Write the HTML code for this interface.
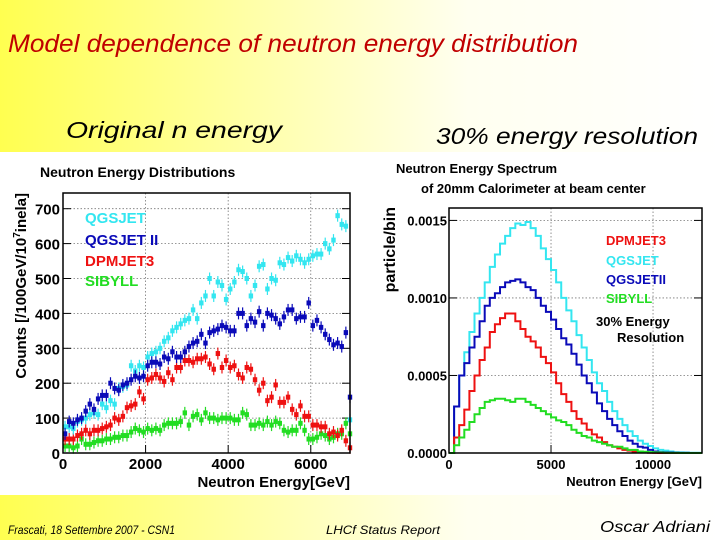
<!DOCTYPE html>
<html><head><meta charset="utf-8">
<style>
html,body{margin:0;padding:0;width:720px;height:540px;overflow:hidden}
body{background:linear-gradient(90deg,#ffff50 0%,#ffffa8 35%,#fffff0 65%,#ffffff 100%)}
svg text{font-family:"Liberation Sans",sans-serif}
.hand{font-family:"Liberation Sans",sans-serif;font-style:italic}
</style></head><body>
<svg id="chart" width="720" height="540" xmlns="http://www.w3.org/2000/svg">
<rect x="0" y="152" width="720" height="343" fill="#ffffff"/>
<text x="8" y="52" class="hand" font-size="25" fill="#c00000" textLength="570" lengthAdjust="spacingAndGlyphs">Model dependence of neutron energy distribution</text>
<text x="66" y="138" class="hand" font-size="23" fill="#000" textLength="216" lengthAdjust="spacingAndGlyphs">Original n energy</text>
<text x="436" y="144" class="hand" font-size="23" fill="#000" textLength="262" lengthAdjust="spacingAndGlyphs">30% energy resolution</text>
<text x="8" y="534" class="hand" font-size="12" fill="#000" textLength="167" lengthAdjust="spacingAndGlyphs">Frascati, 18 Settembre 2007 - CSN1</text>
<text x="326" y="534" class="hand" font-size="12" fill="#000" textLength="114" lengthAdjust="spacingAndGlyphs">LHCf Status Report</text>
<text x="600" y="532" class="hand" font-size="16" fill="#000" textLength="110" lengthAdjust="spacingAndGlyphs">Oscar Adriani</text>
<g id="left"></g>
<g id="right"></g>
</svg>
<script>
// ---- left chart data (100 GeV bins, centers at 50,150,...)
const leftBinWidth = 100;
const qgsjet = [75,75,70,90,95,100,110,115,110,140,130,150,140,185,190,195,250,235,250,245,275,285,290,300,320,330,350,360,370,380,385,410,385,430,450,500,450,490,480,440,470,490,525,520,500,450,480,535,540,470,500,495,545,540,560,550,565,555,545,555,565,570,570,600,585,610,680,655,650,95];
const qgsjet2 = [55,90,85,95,100,120,140,125,155,165,165,200,185,180,195,200,210,220,215,220,250,260,260,255,275,270,290,275,275,290,305,315,320,340,315,345,350,355,365,360,350,350,400,400,365,385,375,405,365,400,395,385,370,390,410,410,385,390,390,430,365,380,360,340,325,310,315,305,345,160];
const dpmjet = [40,40,40,50,55,65,55,65,65,70,75,80,100,95,105,130,135,140,175,155,210,215,225,215,205,230,210,245,245,265,265,260,270,270,275,255,240,285,245,265,245,250,225,215,245,240,210,180,200,150,160,195,145,145,160,125,110,135,105,105,80,80,75,75,55,60,50,65,35,15];
const sibyll = [20,20,15,20,40,25,25,30,35,35,40,40,45,45,50,50,60,70,65,60,70,65,70,65,80,85,85,85,90,115,80,105,110,95,115,100,100,95,100,100,100,95,95,115,110,80,80,85,80,90,80,90,85,65,60,65,65,85,65,40,40,45,55,50,40,45,55,55,85,55];
const leftXTicks = [0,2000,4000,6000];
const leftYTicks = [0,100,200,300,400,500,600,700];
// ---- right chart data (250 GeV bins)
const rightBinWidth = 250;
const rQgsjet = [0,0.0003,0.0005,0.00065,0.00078,0.0009,0.001,0.0011,0.0012,0.00128,0.00135,0.0014,0.00145,0.00148,0.00147,0.00149,0.00145,0.0014,0.00132,0.00125,0.00118,0.0011,0.001,0.00092,0.00085,0.00076,0.00068,0.0006,0.00052,0.00045,0.0004,0.00033,0.00027,0.00022,0.00018,0.00014,0.00011,0.00008,0.00006,0.000045,0.00003,0.00002,0.000015,0.00001,0.000005,0.000004,0.000003,0.000002,0.000002,0.000001];
const rQgsjet2 = [0,0.0003,0.0005,0.00058,0.00068,0.00075,0.00085,0.00095,0.001,0.00103,0.00107,0.0011,0.00111,0.00112,0.0011,0.00107,0.00105,0.001,0.00095,0.00091,0.00086,0.0008,0.00074,0.0007,0.00064,0.00057,0.0005,0.00045,0.00039,0.00032,0.00027,0.00022,0.00018,0.00014,0.00011,0.00008,0.00006,0.00004,0.000035,0.00002,0.00001,0.000006,0.000004,0.000003,0.000002,0.000001,0.000001,0,0,0];
const rDpmjet = [0,0.0001,0.00018,0.00028,0.0004,0.0005,0.0006,0.00068,0.00078,0.00083,0.00087,0.0009,0.0009,0.00085,0.0008,0.00075,0.00072,0.00068,0.00062,0.00058,0.00052,0.00045,0.00038,0.00033,0.00027,0.00022,0.00019,0.00015,0.00012,0.0001,0.00007,0.00005,0.00004,0.00003,0.00002,0.000015,0.00001,0.000006,0.000004,0.000002,0.000001,0,0,0,0,0,0,0,0,0];
const rSibyll = [0,0.00005,0.0001,0.00015,0.0002,0.00025,0.00029,0.00033,0.00034,0.00035,0.00035,0.00034,0.00033,0.00035,0.00035,0.00033,0.00031,0.00029,0.00027,0.00025,0.00023,0.00021,0.0002,0.00018,0.00015,0.00013,0.00011,0.0001,0.00008,0.00007,0.00006,0.00005,0.00004,0.00004,0.00003,0.00002,0.00002,0.00001,0.000008,0.000006,0.000004,0.000003,0.000002,0.000001,0.000001,0,0,0,0,0];
const rightXTicks = [0,5000,10000];
const rightYTicks = [0,0.0005,0.0010,0.0015];

const NS = "http://www.w3.org/2000/svg";
function mk(parent, tag, attrs, text){
  const e = document.createElementNS(NS, tag);
  for (const k in attrs) e.setAttribute(k, attrs[k]);
  if (text !== undefined) e.textContent = text;
  parent.appendChild(e);
  return e;
}

// ---------- LEFT ----------
(function(){
  const g = document.getElementById('left');
  const L=63,R=350,T=193,B=453, xMax=6950, yMax=745;
  const X = v => L + v/xMax*(R-L);
  const Y = v => B - v/yMax*(B-T);
  const t = mk(g,'text',{x:40,y:177,'font-size':14,'font-weight':'bold',fill:'#000'},'Neutron Energy Distributions');
  
  
  leftYTicks.forEach(v=>{
    if (v>0){ const gl = mk(g,'line',{x1:L,x2:R,y1:Y(v),y2:Y(v),stroke:'#777','stroke-width':0.8,'stroke-dasharray':'1.5,2'});
        }
    const tl = mk(g,'text',{x:L-3,y:Y(v)+6,'font-size':15,'font-weight':'bold','text-anchor':'end'},String(v));
     
    mk(g,'line',{x1:L,x2:L+8,y1:Y(v),y2:Y(v),stroke:'#000','stroke-width':1});
    mk(g,'line',{x1:R,x2:R-8,y1:Y(v),y2:Y(v),stroke:'#000','stroke-width':1});
  });
  leftXTicks.forEach(v=>{
    if (v>0){ const gl = mk(g,'line',{x1:X(v),x2:X(v),y1:T,y2:B,stroke:'#777','stroke-width':0.8,'stroke-dasharray':'1.5,2'});
        }
    const tl = mk(g,'text',{x:X(v),y:B+16,'font-size':15,'font-weight':'bold','text-anchor':'middle'},String(v));
     
    mk(g,'line',{x1:X(v),x2:X(v),y1:B,y2:B-8,stroke:'#000'});
  });
  const series = [[sibyll,'#22dd22','sibyll'],[dpmjet,'#ee1111','dpmjet3'],[qgsjet,'#33e6f0','qgsjet'],[qgsjet2,'#0a0ab8','qgsjet-ii']];
  series.forEach(([arr,col,nm])=>{
    arr.forEach((v,i)=>{
      const cx = X((i+0.5)*leftBinWidth), cy = Y(v);
      mk(g,'line',{x1:cx,x2:cx,y1:cy-6,y2:cy+6,stroke:col,'stroke-width':1.2});
      const p = mk(g,'rect',{x:cx-2.2,y:cy-2.5,width:4.4,height:5,fill:col});
      
      
    });
  });
  const fr = mk(g,'rect',{x:L,y:T,width:R-L,height:B-T,fill:'none',stroke:'#000','stroke-width':1.5});
   
  const xt = mk(g,'text',{x:R,y:487,'font-size':15,'font-weight':'bold','text-anchor':'end'},'Neutron Energy[GeV]');
   
  const yt = mk(g,'text',{x:0,y:0,'font-size':15,'font-weight':'bold','text-anchor':'end',transform:'translate(26,193) rotate(-90)'});
  yt.innerHTML = 'Counts [/100GeV/10<tspan dy="-6" font-size="10">7</tspan><tspan dy="6">inela]</tspan>';
   
  [['QGSJET','#33e6f0',223],['QGSJET II','#0a0ab8',245],['DPMJET3','#ee1111',266],['SIBYLL','#22dd22',286]].forEach(([s,c,y])=>{
    const e = mk(g,'text',{x:85,y:y,'font-size':15,'font-weight':'bold',fill:c},s);
     
  });
})();

// ---------- RIGHT ----------
(function(){
  const g = document.getElementById('right');
  const L=449,R=702,T=208,B=453, xMax=12400, yMax=0.00158;
  const X = v => L + v/xMax*(R-L);
  const Y = v => B - v/yMax*(B-T);
  const t1 = mk(g,'text',{x:396,y:173,'font-size':13,'font-weight':'bold'},'Neutron Energy Spectrum');
   
  const t2 = mk(g,'text',{x:421,y:193,'font-size':13,'font-weight':'bold'},'of 20mm Calorimeter at beam center');
   
  rightYTicks.forEach(v=>{
    if (v>0){ const gl = mk(g,'line',{x1:L,x2:R,y1:Y(v),y2:Y(v),stroke:'#777','stroke-width':0.8,'stroke-dasharray':'1.5,2'});
        }
    const tl = mk(g,'text',{x:L-2,y:Y(v)+5,'font-size':13,'font-weight':'bold','text-anchor':'end'},v.toFixed(4));
     
    mk(g,'line',{x1:L,x2:L+8,y1:Y(v),y2:Y(v),stroke:'#000'});
    mk(g,'line',{x1:R,x2:R-8,y1:Y(v),y2:Y(v),stroke:'#000'});
  });
  rightXTicks.forEach(v=>{
    if (v>0){ const gl = mk(g,'line',{x1:X(v),x2:X(v),y1:T,y2:B,stroke:'#777','stroke-width':0.8,'stroke-dasharray':'1.5,2'});
        }
    const tl = mk(g,'text',{x:X(v),y:B+16,'font-size':13,'font-weight':'bold','text-anchor':'middle'},String(v));
     
    mk(g,'line',{x1:X(v),x2:X(v),y1:B,y2:B-8,stroke:'#000'});
  });
  const series = [[rQgsjet,'#33e6f0','qgsjet'],[rQgsjet2,'#0a0ab8','qgsjet-ii'],[rDpmjet,'#ee1111','dpmjet3'],[rSibyll,'#22dd22','sibyll']];
  series.forEach(([arr,col,nm])=>{
    let d = 'M'+X(0)+','+Y(0);
    arr.forEach((v,i)=>{
      const x0 = X(i*rightBinWidth), x1 = X(Math.min((i+1)*rightBinWidth,xMax));
      d += ' L'+x0+','+Y(v)+' L'+x1+','+Y(v);
    });
    const p = mk(g,'path',{d:d,fill:'none',stroke:col,'stroke-width':2});
    
    
  });
  const fr = mk(g,'rect',{x:L,y:T,width:R-L,height:B-T,fill:'none',stroke:'#000','stroke-width':1.5});
   
  const xt = mk(g,'text',{x:702,y:486,'font-size':13,'font-weight':'bold','text-anchor':'end'},'Neutron Energy [GeV]');
   
  const yt = mk(g,'text',{x:0,y:0,'font-size':16,'font-weight':'bold','text-anchor':'end',transform:'translate(395,207) rotate(-90)'},'particle/bin');
   
  [['DPMJET3','#ee1111',245,606],['QGSJET','#33e6f0',265,606],['QGSJETII','#0a0ab8',284,606],['SIBYLL','#22dd22',303,606]].forEach(([s,c,y,x])=>{
    const e = mk(g,'text',{x:x,y:y,'font-size':13,'font-weight':'bold',fill:c},s);
     
  });
  const n1 = mk(g,'text',{x:596,y:326,'font-size':13,'font-weight':'bold'},'30% Energy');
   
  const n2 = mk(g,'text',{x:617,y:342,'font-size':13,'font-weight':'bold'},'Resolution');
   
})();
</script>
</body></html>
